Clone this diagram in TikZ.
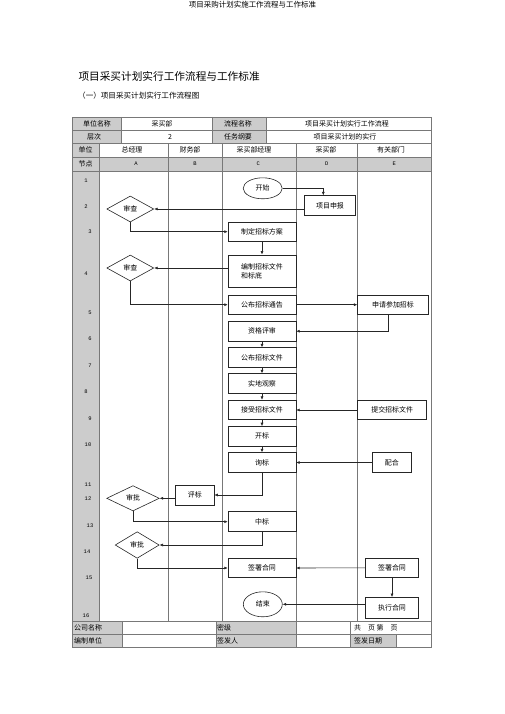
\documentclass[tikz,border=0pt]{standalone}
\usepackage{fontspec}
\setmainfont{Noto Sans CJK SC}
\newfontfamily\numfont{Liberation Mono}
\usetikzlibrary{shapes.geometric,arrows.meta}

\definecolor{cellgray}{RGB}{204,204,204}
\definecolor{linegray}{RGB}{120,120,120}

\tikzstyle{box} = [rectangle, draw=black!85, line width=0.7bp, minimum width=67.7bp, minimum height=19.5bp, inner sep=1bp, font=\fontsize{7}{9}\selectfont]
\tikzstyle{check} = [diamond, draw=black!85, line width=0.6bp, inner sep=0pt, minimum width=47bp, minimum height=26bp, font=\fontsize{7}{8}\selectfont]
\tikzstyle{term} = [ellipse, draw=black!85, line width=0.6bp, inner sep=0pt, minimum width=39bp, font=\fontsize{7}{8}\selectfont]
\tikzstyle{arr} = [-{Latex[length=3.5bp,width=3bp]}, line width=0.6bp, black!85]
\tikzstyle{txt} = [inner sep=0pt, font=\fontsize{7}{8}\selectfont]
\tikzstyle{num} = [inner sep=0pt, font=\numfont\fontsize{5.5}{6}\selectfont]
\tikzstyle{grid} = [draw=linegray, line width=0.7bp]

\begin{document}
\begin{tikzpicture}[x=1bp,y=-1bp]
\useasboundingbox (0,0) rectangle (505,714);

\node[txt, font=\fontsize{7.5}{8}\selectfont] (pagehead) at (252.5,5) {项目采购计划实施工作流程与工作标准};
\node[txt, anchor=west, font=\fontsize{10.7}{12}\selectfont] (title) at (78.3,76) {项目采买计划实行工作流程与工作标准};
\node[txt, anchor=west, font=\fontsize{7.6}{9}\selectfont] (subtitle) at (78,95.3) {（一）项目采买计划实行工作流程图};

\fill[cellgray] (72.3,117) rectangle (121.7,143.5);
\fill[cellgray] (212.7,117) rectangle (266.7,143.5);
\fill[cellgray] (72.3,143.5) rectangle (99,157);
\fill[cellgray] (72.3,157) rectangle (431,171);
\fill[cellgray] (72.3,171) rectangle (99,621);
\fill[cellgray] (72.3,621) rectangle (122.7,647.5);
\fill[cellgray] (216,621) rectangle (296.7,647.5);
\fill[cellgray] (350,634) rectangle (396,647.5);

\draw[grid] (72.3,117) rectangle (431,647.5);
\draw[grid] (72.3,130) -- (431,130);
\draw[grid] (72.3,143.5) -- (431,143.5);
\draw[grid] (72.3,157) -- (431,157);
\draw[grid] (72.3,171) -- (431,171);
\draw[grid] (72.3,621) -- (431,621);
\draw[grid] (72.3,634) -- (431,634);
\draw[grid] (121.7,117) -- (121.7,143.5);
\draw[grid] (212.7,117) -- (212.7,143.5);
\draw[grid] (266.7,117) -- (266.7,143.5);
\draw[grid] (99,143.5) -- (99,621);
\draw[grid] (168.3,143.5) -- (168.3,621);
\draw[grid] (222.7,143.5) -- (222.7,621);
\draw[grid] (296.7,143.5) -- (296.7,647.5);
\draw[grid] (357.7,143.5) -- (357.7,621);
\draw[grid] (122.7,621) -- (122.7,647.5);
\draw[grid] (216,621) -- (216,647.5);
\draw[grid] (350,621) -- (350,647.5);
\draw[grid] (396,634) -- (396,647.5);

\node[txt] (unitname) at (97,123.5) {单位名称};
\node[txt] (unitval) at (162,123.5) {采买部};
\node[txt] (flowname) at (238,123.5) {流程名称};
\node[txt] (flowval) at (347,123.5) {项目采买计划实行工作流程};
\node[txt] (level) at (94,136.8) {层次};
\node[txt] (levelval) at (170,136.8) {2};
\node[txt] (task) at (238,136.8) {任务纲要};
\node[txt] (taskval) at (345,136.8) {项目采买计划的实行};
\node[txt] (unit) at (85.7,150.2) {单位};
\node[txt] (colA) at (132,150.2) {总经理};
\node[txt] (colB) at (190,150.2) {财务部};
\node[txt] (colC) at (254,150.2) {采买部经理};
\node[txt] (colD) at (326,150.2) {采买部};
\node[txt] (colE) at (391,150.2) {有关部门};
\node[txt] (step) at (85.7,164) {节点};
\node[num] (keyA) at (136,164) {A};
\node[num] (keyB) at (195,164) {B};
\node[num] (keyC) at (258.3,164) {C};
\node[num] (keyD) at (326.7,164) {D};
\node[num] (keyE) at (394.3,164) {E};

\node[num] (n1) at (86,181) {1};
\node[num] (n2) at (86,206.7) {2};
\node[num] (n3) at (90,232) {3};
\node[num] (n4) at (86,273.3) {4};
\node[num] (n5) at (90,312.7) {5};
\node[num] (n6) at (90,339) {6};
\node[num] (n7) at (90,365.7) {7};
\node[num] (n8) at (86,392) {8};
\node[num] (n9) at (90,418.3) {9};
\node[num] (n10) at (88,444.7) {10};
\node[num] (n11) at (88,485) {11};
\node[num] (n12) at (88,498.3) {12};
\node[num] (n13) at (90,525.7) {13};
\node[num] (n14) at (87,551.7) {14};
\node[num] (n15) at (89,577.7) {15};
\node[num] (n16) at (86,615.7) {16};

\node[txt, anchor=west] (company) at (74,627.5) {公司名称};
\node[txt, anchor=west] (maker) at (74,641) {编制单位};
\node[txt, anchor=west] (secret) at (217,627.5) {密级};
\node[txt, anchor=west] (issuer) at (217,641) {签发人};
\node[txt, anchor=west] (pages) at (354,627.5) {共\quad 页\ 第\quad 页};
\node[txt, anchor=west] (date) at (354,641) {签发日期};

\node[term, minimum height=21bp] (start) at (262.7,188.3) {开始};
\node[box, minimum width=51.4bp] (report) at (330,205.5) {项目申报};
\node[check] (audit1) at (130.3,209) {审查};
\node[box] (plan) at (262,231.7) {制定招标方案};
\node[box, minimum height=32.7bp, align=left] (compile) at (262,271.3) {编制招标文件\\和标底};
\node[check] (audit2) at (130.3,268) {审查};
\node[box] (notice) at (262,304.7) {公布招标通告};
\node[box, minimum width=70.6bp] (apply) at (393,304.7) {申请参加招标};
\node[box] (qualify) at (262,331.2) {资格评审};
\node[box] (publish) at (262,357.5) {公布招标文件};
\node[box] (survey) at (262,383.5) {实地观察};
\node[box] (receive) at (262,410) {接受招标文件};
\node[box, minimum width=69bp] (submit) at (392.2,410) {提交招标文件};
\node[box] (open) at (262,436.3) {开标};
\node[box] (inquire) at (262,462.5) {询标};
\node[box, minimum width=38.3bp] (assist) at (391.8,462.5) {配合};
\node[box, minimum width=38.3bp, minimum height=20bp] (evaluate) at (194.8,495) {评标};
\node[check, minimum width=52.6bp, minimum height=25.3bp] (approve1) at (133,498.3) {审批};
\node[box, minimum height=20bp] (award) at (262,521.7) {中标};
\node[check, minimum width=44bp, minimum height=26.6bp] (approve2) at (137.2,545) {审批};
\node[box] (sign) at (262,568) {签署合同};
\node[box, minimum width=52.6bp] (signE) at (392,567.8) {签署合同};
\node[box, minimum width=52.6bp, minimum height=20.5bp] (execute) at (392,607.7) {执行合同};
\node[term, minimum height=25bp] (finish) at (262.8,604.3) {结束};

\draw[arr] (start.east) -| ([xshift=-6.7bp]report.north);
\draw[arr] (report.west |- audit1.east) -- (audit1.east);
\draw[arr] (audit1.south) |- (plan.west);
\draw[arr] (plan.south) -- (compile.north);
\draw[arr] (compile.west |- audit2.east) -- (audit2.east);
\draw[arr] (audit2.south) |- (notice.west);
\draw[arr] (notice.east) -- (apply.west);
\draw[arr] ([xshift=-4.7bp]apply.south) |- (qualify.east);
\draw[arr] (qualify.south) -- (publish.north);
\draw[arr] (publish.south) -- (survey.north);
\draw[arr] (survey.south) -- (receive.north);
\draw[arr] (submit.west) -- (receive.east);
\draw[arr] (receive.south) -- (open.north);
\draw[arr] (open.south) -- (inquire.north);
\draw[arr] (assist.west) -- (inquire.east);
\draw[arr] (inquire.south) |- (evaluate.east);
\draw[arr] (evaluate.west |- approve1.east) -- (approve1.east);
\draw[arr] (approve1.south) |- (award.west);
\draw[arr] (award.south) |- (approve2.east);
\draw[arr] (approve2.south) |- (sign.west);
\draw[arr] (signE.west) -- (sign.east);
\draw[arr] (signE.south) -- (execute.north);
\draw[arr] (execute.west |- finish.east) -- (finish.east);
\end{tikzpicture}
\end{document}
